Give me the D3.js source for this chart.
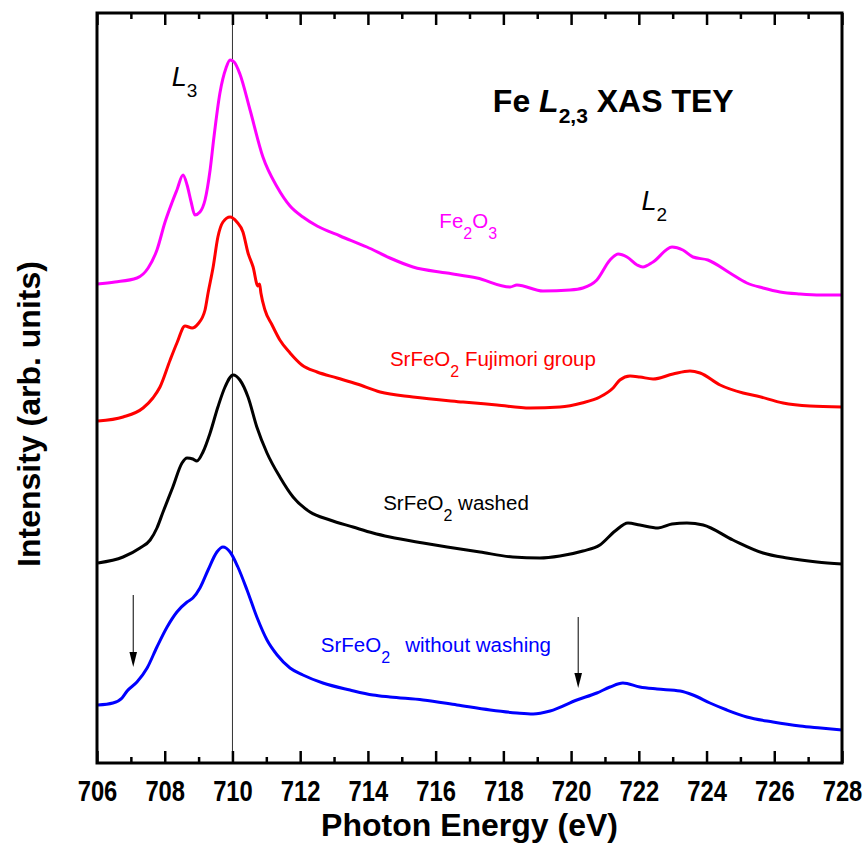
<!DOCTYPE html>
<html><head><meta charset="utf-8">
<script src="https://cdn.jsdelivr.net/npm/d3@7"></script>
<style>
body{margin:0;background:#fff}
svg{display:block}
text{font-family:"Liberation Sans",Arial,Helvetica,sans-serif}
</style>
</head><body>
<svg id="chart" width="867" height="843"></svg>
<script>
// ---------- data (photon energy in eV, intensity in arb. units, offset stacked) ----------
const fe2o3Energy = [706.00,706.53,707.18,707.51,707.77,708.01,708.21,708.36,708.54,708.66,708.78,708.89,709.04,709.19,709.34,709.45,709.63,709.81,709.93,710.05,710.22,710.52,710.90,711.32,711.70,712.08,712.50,713.18,713.97,714.65,715.33,716.34,717.22,718.20,718.40,719.17,719.97,720.35,720.76,721.15,721.39,721.65,721.95,722.12,722.42,722.98,723.30,723.60,724.04,724.69,725.19,725.67,726.17,726.76,727.37,728.00];
const fe2o3Intensity = [4.79,4.81,4.85,4.95,5.13,5.41,5.60,5.73,5.88,5.78,5.61,5.48,5.51,5.63,5.93,6.25,6.70,6.95,7.03,7.01,6.89,6.53,6.06,5.76,5.57,5.46,5.37,5.27,5.16,5.05,4.96,4.90,4.85,4.76,4.78,4.72,4.73,4.75,4.83,5.03,5.09,5.06,4.98,4.96,5.01,5.16,5.13,5.06,5.03,4.90,4.80,4.75,4.71,4.69,4.68,4.68];

const fujimoriEnergy = [706.03,706.77,707.36,707.65,707.86,708.16,708.36,708.60,708.81,708.98,709.19,709.28,709.43,709.57,709.72,709.93,710.13,710.31,710.46,710.61,710.75,710.80,710.84,710.96,711.17,711.40,711.70,712.05,712.50,713.09,713.68,714.36,715.33,716.81,717.81,718.79,719.67,720.32,720.85,721.24,721.44,721.74,722.03,722.42,723.01,723.51,723.81,724.40,725.08,725.49,726.26,727.05,728.00];
const fujimoriIntensity = [3.42,3.46,3.55,3.65,3.76,4.03,4.20,4.37,4.35,4.39,4.53,4.70,4.96,5.26,5.41,5.46,5.41,5.31,5.10,4.96,4.77,4.79,4.70,4.53,4.38,4.23,4.10,3.98,3.91,3.85,3.79,3.71,3.66,3.61,3.58,3.55,3.56,3.60,3.66,3.75,3.83,3.87,3.86,3.84,3.89,3.92,3.90,3.78,3.70,3.67,3.60,3.57,3.56];

const washedEnergy = [706.03,706.77,707.27,707.57,707.77,707.95,708.24,708.51,708.66,708.83,708.95,709.13,709.34,709.57,709.78,710.02,710.22,710.46,710.72,711.02,711.40,711.79,712.29,712.88,713.56,714.15,714.65,715.63,716.34,717.31,718.28,719.08,719.67,720.35,720.85,721.30,721.68,722.03,722.57,722.98,723.42,723.90,724.78,725.67,726.38,727.26,728.00];
const washedIntensity = [2.00,2.06,2.15,2.23,2.35,2.51,2.76,3.00,3.05,3.04,3.02,3.11,3.30,3.56,3.76,3.88,3.83,3.66,3.36,3.10,2.86,2.66,2.51,2.43,2.36,2.30,2.26,2.20,2.16,2.11,2.06,2.05,2.07,2.12,2.18,2.32,2.40,2.38,2.35,2.39,2.40,2.38,2.23,2.10,2.05,2.01,1.99];

const unwashedEnergy = [706.03,706.47,706.74,706.89,707.18,707.48,707.77,708.07,708.36,708.66,708.83,709.04,709.28,709.54,709.72,709.93,710.16,710.43,710.72,711.02,711.32,711.70,712.08,712.67,713.47,714.15,714.65,715.63,716.63,717.61,718.40,718.88,719.38,720.17,720.76,721.15,721.53,722.03,722.54,723.22,723.60,724.10,724.60,725.19,725.96,726.76,727.37,728.00];
const unwashedIntensity = [0.58,0.60,0.65,0.72,0.81,0.95,1.16,1.36,1.51,1.61,1.65,1.75,1.93,2.11,2.16,2.11,1.96,1.73,1.46,1.23,1.08,0.95,0.88,0.80,0.73,0.68,0.66,0.63,0.58,0.53,0.50,0.49,0.52,0.63,0.70,0.76,0.80,0.76,0.74,0.72,0.68,0.60,0.53,0.46,0.41,0.37,0.35,0.33];

const majorTicks = [706,708,710,712,714,716,718,720,722,724,726,728];
const minorTicks = [707,709,711,713,715,717,719,721,723,725,727];
const referenceEnergy = 710;
const arrowEnergies = [707.07, 720.21];
const arrowTops = [1.68, 1.46];
const arrowTips = [0.96, 0.75];

// ---------- layout ----------
const svg = d3.select("#chart");
const x = d3.scaleLinear().domain([706, 728]).range([97, 842]);
const y = d3.scaleLinear().domain([0, 7.5]).range([763, 13]);

svg.append("rect").attr("width", 867).attr("height", 843).attr("fill", "#fff");

// reference vertical line
svg.append("line")
  .attr("x1", x(referenceEnergy)).attr("x2", x(referenceEnergy))
  .attr("y1", y(7.5)).attr("y2", y(0))
  .attr("stroke", "#333").attr("stroke-width", 1);

// ---------- series ----------
const series = [
  {e: fe2o3Energy, v: fe2o3Intensity, color: "#ff00ff"},
  {e: fujimoriEnergy, v: fujimoriIntensity, color: "#ff0000"},
  {e: washedEnergy, v: washedIntensity, color: "#000000"},
  {e: unwashedEnergy, v: unwashedIntensity, color: "#0000ff"}
];
const line = d3.line().x(d => x(d[0])).y(d => y(d[1])).curve(d3.curveMonotoneX);
series.forEach(s => {
  svg.append("path")
    .datum(s.e.map((e, i) => [e, s.v[i]]))
    .attr("d", line)
    .attr("fill", "none")
    .attr("stroke", s.color)
    .attr("stroke-width", 3)
    .attr("stroke-linejoin", "round");
});

// arrows
arrowEnergies.forEach((e, i) => {
  const ax = x(e), yt = y(arrowTops[i]), yb = y(arrowTips[i]);
  svg.append("line").attr("x1", ax).attr("x2", ax).attr("y1", yt).attr("y2", yb - 12)
    .attr("stroke", "#000").attr("stroke-width", 1);
  svg.append("path")
    .attr("d", `M${ax - 3.8},${yb - 15} L${ax + 3.8},${yb - 15} L${ax},${yb} Z`)
    .attr("fill", "#000");
});

// ---------- axes ----------
function styleAxis(g) {
  g.select(".domain").remove();
  g.selectAll(".tick line").attr("stroke", "#000").attr("stroke-width", 2.5);
  g.selectAll(".tick text").attr("fill", "#000")
    .attr("transform", "scale(0.82,1)")
    .style("font-family", '"Liberation Sans",Arial,sans-serif')
    .style("font-weight", "bold").style("font-size", "29px");
}
svg.append("g").attr("transform", "translate(0,763)")
  .call(d3.axisBottom(x).tickValues(majorTicks).tickSize(-12).tickSizeOuter(0).tickPadding(17).tickFormat(d3.format("d")))
  .call(styleAxis);
svg.append("g").attr("transform", "translate(0,763)")
  .call(d3.axisBottom(x).tickValues(minorTicks).tickSize(-6).tickSizeOuter(0).tickFormat(""))
  .call(styleAxis);
svg.append("g").attr("transform", "translate(0,13)")
  .call(d3.axisTop(x).tickValues(majorTicks).tickSize(-12).tickSizeOuter(0).tickFormat(""))
  .call(styleAxis);
svg.append("g").attr("transform", "translate(0,13)")
  .call(d3.axisTop(x).tickValues(minorTicks).tickSize(-6).tickSizeOuter(0).tickFormat(""))
  .call(styleAxis);

// frame
svg.append("rect")
  .attr("x", x(706)).attr("y", y(7.5))
  .attr("width", x(728) - x(706)).attr("height", y(0) - y(7.5))
  .attr("fill", "none").attr("stroke", "#000").attr("stroke-width", 3);

// axis titles
svg.append("text")
  .attr("x", (x(706) + x(728)) / 2).attr("y", 836)
  .attr("text-anchor", "middle")
  .style("font-weight", "bold").style("font-size", "32px")
  .text("Photon Energy (eV)");
svg.append("text")
  .attr("transform", "translate(40,414) rotate(-90)")
  .attr("text-anchor", "middle")
  .style("font-weight", "bold").style("font-size", "32px")
  .text("Intensity (arb. units)");

// ---------- annotations ----------
// title
const title = svg.append("text").attr("x", x(717.69)).attr("y", y(6.51))
  .style("font-weight", "bold").style("font-size", "32px").attr("fill", "#000");
title.append("tspan").text("Fe ");
title.append("tspan").style("font-style", "italic").text("L");
title.append("tspan").attr("dy", 11).style("font-size", "21px").text("2,3");
title.append("tspan").attr("dy", -11).text(" XAS TEY");

function edgeLabel(e, v, sub) {
  const t = svg.append("text").attr("x", x(e)).attr("y", y(v))
    .style("font-size", "27px").attr("fill", "#000");
  t.append("tspan").style("font-style", "italic").text("L");
  t.append("tspan").attr("dy", 10.5).style("font-size", "19px").text(sub);
}
edgeLabel(708.21, 6.77, "3");
edgeLabel(722.08, 5.53, "2");

function seriesLabel(e, v, color, parts) {
  const t = svg.append("text").attr("x", x(e)).attr("y", y(v))
    .style("font-size", "20.5px").attr("fill", color);
  parts.forEach(p => {
    const ts = t.append("tspan").text(p.t);
    if (p.sub) ts.attr("dy", 11).style("font-size", "16px");
    if (p.back) ts.attr("dy", -11);
    if (p.x) ts.attr("x", x(p.x));
  });
}
seriesLabel(716.11, 5.35, "#ff00ff", [{t: "Fe"}, {t: "2", sub: true}, {t: "O", back: true}, {t: "3", sub: true}]);
seriesLabel(714.65, 3.97, "#ff0000", [{t: "SrFeO"}, {t: "2", sub: true}, {t: " Fujimori group", back: true}]);
seriesLabel(714.45, 2.53, "#000000", [{t: "SrFeO"}, {t: "2", sub: true}, {t: " washed", back: true}]);
seriesLabel(712.61, 1.11, "#0000ff", [{t: "SrFeO"}, {t: "2", sub: true}, {t: "without washing", back: true, x: 715.10}]);
</script>
</body></html>
